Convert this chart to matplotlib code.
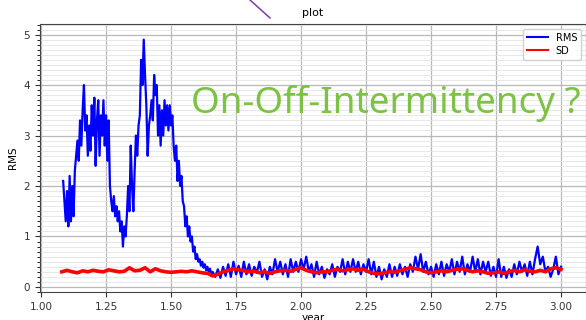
import numpy as np
import matplotlib
matplotlib.use('Agg')
import matplotlib.pyplot as plt
from matplotlib.lines import Line2D
from matplotlib.ticker import MultipleLocator

# RMS, active phase (sampled every 0.005 yr from 1.085 to 1.66)
rms_active = [2.1, 1.7, 1.3, 1.9, 1.2, 2.2, 1.3, 2.0, 1.4, 2.3,
              2.6, 2.9, 2.5, 3.3, 2.8, 3.5, 4.0, 3.1, 3.4, 2.6,
              3.2, 2.7, 3.6, 3.0, 3.75, 2.4, 3.3, 3.7, 2.6, 3.4,
              3.0, 3.7, 2.8, 3.4, 2.5, 3.3, 2.0, 1.7, 1.5, 1.8,
              1.4, 1.6, 1.3, 1.5, 1.1, 1.3, 0.8, 1.2, 1.0, 1.4,
              2.0, 1.5, 2.8, 2.0, 1.5, 2.3, 3.0, 2.6, 3.2, 3.4,
              4.5, 4.0, 4.9, 4.2, 3.6, 2.6, 3.2, 3.4, 3.7, 3.3,
              4.2, 3.8, 4.0, 3.0, 3.6, 2.8, 3.5, 3.0, 3.7, 3.2,
              3.6, 3.1, 3.6, 3.2, 3.4, 2.8, 2.5, 2.8, 2.1, 2.5,
              2.0, 2.2, 1.7, 1.6, 1.2, 1.4, 1.0, 1.2, 0.9, 1.0,
              0.7, 0.8, 0.55, 0.65, 0.5, 0.55, 0.42, 0.5, 0.38, 0.45,
              0.33, 0.4, 0.3, 0.36, 0.25, 0.3]

# RMS, quiet phase (sampled every 0.01 yr from 1.67 to 3.00)
rms_quiet = [0.2, 0.35, 0.18, 0.4, 0.22, 0.45, 0.2, 0.5, 0.25, 0.42,
             0.2, 0.5, 0.25, 0.45, 0.22, 0.4, 0.28, 0.5, 0.2, 0.35,
             0.15, 0.4, 0.25, 0.55, 0.3, 0.5, 0.25, 0.45, 0.2, 0.55,
             0.3, 0.5, 0.3, 0.55, 0.35, 0.6, 0.3, 0.45, 0.2, 0.5,
             0.25, 0.4, 0.18, 0.35, 0.25, 0.45, 0.2, 0.4, 0.3, 0.55,
             0.25, 0.5, 0.3, 0.55, 0.3, 0.5, 0.25, 0.45, 0.3, 0.55,
             0.25, 0.5, 0.2, 0.4, 0.15, 0.35, 0.2, 0.45, 0.2, 0.4,
             0.22, 0.45, 0.25, 0.4, 0.2, 0.45, 0.3, 0.6, 0.35, 0.65,
             0.3, 0.5, 0.25, 0.4, 0.2, 0.45, 0.25, 0.5, 0.22, 0.45,
             0.3, 0.55, 0.25, 0.5, 0.3, 0.6, 0.25, 0.45, 0.3, 0.6,
             0.3, 0.55, 0.25, 0.5, 0.3, 0.5, 0.22, 0.4, 0.2, 0.55,
             0.2, 0.4, 0.18, 0.35, 0.2, 0.45, 0.25, 0.5, 0.3, 0.45,
             0.22, 0.5, 0.25, 0.55, 0.8, 0.45, 0.6, 0.3, 0.4, 0.2,
             0.35, 0.6, 0.25, 0.4]

# SD (sampled every 0.02 yr from 1.08 to 3.00)
sd = [0.3, 0.33, 0.3, 0.28, 0.32, 0.3, 0.33, 0.31, 0.3, 0.34,
      0.32, 0.3, 0.31, 0.38, 0.32, 0.33, 0.38, 0.3, 0.36, 0.32,
      0.3, 0.29, 0.3, 0.31, 0.3, 0.32, 0.3, 0.28, 0.27, 0.22,
      0.25, 0.3, 0.33, 0.36, 0.34, 0.32, 0.3, 0.31, 0.28, 0.3,
      0.27, 0.3, 0.32, 0.33, 0.31, 0.35, 0.38, 0.33, 0.3, 0.28,
      0.3, 0.3, 0.33, 0.35, 0.32, 0.34, 0.36, 0.33, 0.35, 0.3,
      0.27, 0.26, 0.28, 0.3, 0.29, 0.32, 0.35, 0.38, 0.36, 0.34,
      0.3, 0.28, 0.3, 0.32, 0.3, 0.33, 0.35, 0.36, 0.33, 0.3,
      0.32, 0.3, 0.27, 0.28, 0.3, 0.27, 0.3, 0.33, 0.3, 0.34,
      0.31, 0.3, 0.33, 0.3, 0.36, 0.38, 0.35]

rms_years = np.concatenate([np.linspace(1.085, 1.66, len(rms_active)),
                            np.linspace(1.67, 3.00, len(rms_quiet))])
rms = rms_active + rms_quiet
sd_years = np.linspace(1.08, 3.00, len(sd))

fig = plt.figure(figsize=(5.86, 3.2), dpi=100)
ax = fig.add_axes([40 / 586, 28 / 320, 546 / 586, 268 / 320])

ax.plot(rms_years, rms, color='blue', lw=1.6, label='RMS')
ax.plot(sd_years, sd, color='red', lw=2.6, label='SD')

ax.set_xlim(0.996, 3.096)
ax.set_ylim(-0.1, 5.21)
ax.set_xticks([1.0, 1.25, 1.5, 1.75, 2.0, 2.25, 2.5, 2.75, 3.0])
ax.yaxis.set_minor_locator(MultipleLocator(0.1))
ax.tick_params(labelsize=7.5, colors='#333333')
ax.tick_params(axis='y', which='minor', length=2)
ax.grid(which='major', color='#b8b8b8', lw=0.9)
ax.grid(which='minor', axis='y', color='#e4e4e4', lw=0.6)
ax.set_axisbelow(True)
for s in ax.spines.values():
    s.set_color('#444444')

ax.set_title('plot', fontsize=8, pad=6)
ax.set_xlabel('year', fontsize=7.5, labelpad=1)
ax.set_ylabel('RMS', fontsize=7.5, labelpad=4)
leg = ax.legend(loc='upper right', fontsize=7, handlelength=2.2,
                borderpad=0.4, labelspacing=0.3, framealpha=0.9)
for h in leg.get_lines():
    h.set_linewidth(1.5)

fig.text(386 / 586, 1 - 103 / 320, 'On-Off-Intermittency ?', color='#7cc243',
         fontsize=26.5, family='Noto Sans', fontweight='light',
         ha='center', va='center')
fig.add_artist(Line2D([250 / 586, 270 / 586], [1.0, 1 - 18 / 320],
                      color='#7b3fa8', lw=1.1, transform=fig.transFigure))

fig.savefig('out.png', dpi=100)
